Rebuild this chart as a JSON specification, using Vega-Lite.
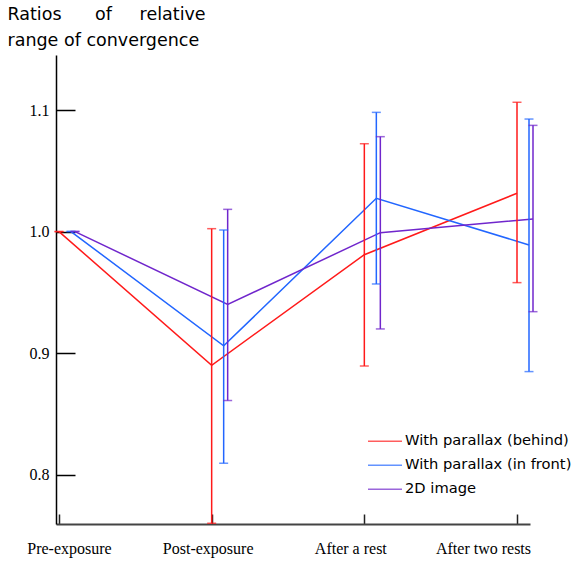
{
  "$schema": "https://vega.github.io/schema/vega-lite/v6.json",
  "width": 474,
  "height": 469,
  "autosize": {"type": "none"},
  "padding": {"left": 56, "top": 55, "right": 50, "bottom": 38},
  "background": "white",
  "config": {"view": {"stroke": null}, "axis": {"grid": false}},
  "data": {
    "values": [
      {"phase": "Pre-exposure", "series": "With parallax (behind)", "mean": 1.0, "lo": 1.0, "hi": 1.0},
      {"phase": "Post-exposure", "series": "With parallax (behind)", "mean": 0.89, "lo": 0.760, "hi": 1.0024},
      {"phase": "After a rest", "series": "With parallax (behind)", "mean": 0.981, "lo": 0.8894, "hi": 1.0723},
      {"phase": "After two rests", "series": "With parallax (behind)", "mean": 1.0315, "lo": 0.958, "hi": 1.1064},
      {"phase": "Pre-exposure", "series": "With parallax (in front)", "mean": 1.0, "lo": 1.0, "hi": 1.0},
      {"phase": "Post-exposure", "series": "With parallax (in front)", "mean": 0.906, "lo": 0.8094, "hi": 1.0013},
      {"phase": "After a rest", "series": "With parallax (in front)", "mean": 1.0274, "lo": 0.9569, "hi": 1.0981},
      {"phase": "After two rests", "series": "With parallax (in front)", "mean": 0.989, "lo": 0.8848, "hi": 1.0926},
      {"phase": "Pre-exposure", "series": "2D image", "mean": 1.0, "lo": 1.0, "hi": 1.0},
      {"phase": "Post-exposure", "series": "2D image", "mean": 0.94, "lo": 0.861, "hi": 1.0183},
      {"phase": "After a rest", "series": "2D image", "mean": 0.9991, "lo": 0.9199, "hi": 1.0781},
      {"phase": "After two rests", "series": "2D image", "mean": 1.0104, "lo": 0.9341, "hi": 1.0874}
    ]
  },
  "encoding": {
    "x": {
      "field": "phase",
      "type": "nominal",
      "sort": null,
      "scale": {"type": "point", "domain": ["Pre-exposure", "Post-exposure", "After a rest", "After two rests"], "padding": 0.0524, "align": 0.1875},
      "axis": {
        "title": null,
        "domainColor": "#444444",
        "domainWidth": 2,
        "tickColor": "#222222",
        "tickWidth": 1.5,
        "tickSize": -10,
        "labelAngle": 0,
        "labelFont": "Liberation Serif",
        "labelFontSize": 16,
        "labelColor": "black",
        "labelBaseline": "top",
        "labelPadding": 26,
        "labelOffset": {
          "condition": [
            {"test": "datum.value == 'Pre-exposure'", "value": 10},
            {"test": "datum.value == 'Post-exposure'", "value": -4},
            {"test": "datum.value == 'After a rest'", "value": -14}
          ],
          "value": -34
        }
      }
    },
    "xOffset": {
      "field": "series",
      "type": "nominal",
      "scale": {"type": "point", "domain": ["With parallax (behind)", "_a", "_b", "With parallax (in front)", "2D image"], "range": [0, 16], "padding": 0}
    },
    "color": {
      "field": "series",
      "type": "nominal",
      "scale": {"domain": ["With parallax (behind)", "With parallax (in front)", "2D image"], "range": ["#ff1a1a", "#2266ff", "#7026cc"]},
      "legend": {
        "title": null,
        "orient": "none",
        "legendX": 311,
        "legendY": 374.5,
        "symbolType": "stroke",
        "symbolSize": 1156,
        "symbolStrokeWidth": 1.5,
        "clipHeight": 23.5,
        "rowPadding": 0,
        "labelOffset": 2,
        "labelFont": "DejaVu Sans",
        "labelFontSize": 14.7,
        "labelColor": "black",
        "labelLimit": 300,
        "padding": 0
      }
    }
  },
  "layer": [
    {
      "mark": {"type": "line", "strokeWidth": 1.5},
      "encoding": {
        "y": {
          "field": "mean",
          "type": "quantitative",
          "scale": {"domain": [0.7594, 1.1453], "nice": false, "zero": false},
          "axis": {
            "values": [0.8, 0.9, 1.0, 1.1],
            "format": ".1f",
            "domainColor": "black",
            "domainWidth": 1.5,
            "tickColor": "black",
            "tickWidth": 1.5,
            "tickSize": -19,
            "labelFont": "Liberation Serif",
            "labelFontSize": 16,
            "labelColor": "black",
            "labelPadding": 26,
            "title": ["Ratios\u00a0\u00a0\u00a0\u00a0\u00a0\u00a0of\u00a0\u00a0\u00a0\u00a0\u00a0relative", "range of convergence"],
            "titleAngle": 0,
            "titleAlign": "left",
            "titleBaseline": "top",
            "titleX": -49,
            "titleY": -50,
            "titleLineHeight": 26,
            "titleFont": "DejaVu Sans",
            "titleFontSize": 17.5,
            "titleFontWeight": "normal",
            "titleColor": "black"
          }
        }
      }
    },
    {
      "mark": {"type": "rule", "strokeWidth": 1.5},
      "encoding": {"y": {"field": "lo", "type": "quantitative"}, "y2": {"field": "hi"}}
    },
    {
      "mark": {"type": "tick", "thickness": 1.5, "size": 9, "orient": "horizontal"},
      "encoding": {"y": {"field": "lo", "type": "quantitative"}}
    },
    {
      "mark": {"type": "tick", "thickness": 1.5, "size": 9, "orient": "horizontal"},
      "encoding": {"y": {"field": "hi", "type": "quantitative"}}
    }
  ]
}
